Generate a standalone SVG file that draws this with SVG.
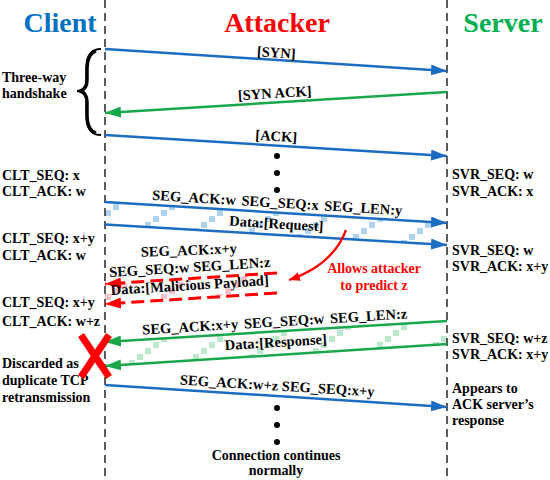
<svg xmlns="http://www.w3.org/2000/svg" width="550" height="480" viewBox="0 0 550 480">
<defs>
<style>
text{font-family:"Liberation Serif","Times New Roman",serif;font-weight:bold}
.title{font-size:28px;text-anchor:middle}
.lab{font-size:14px}
.al{font-size:14.5px;text-anchor:middle}
.life{stroke:#333;stroke-width:1.6;stroke-dasharray:8 5;fill:none}
.blue{stroke:#1C6DC1;stroke-width:2.5;fill:none;marker-end:url(#ahB)}
.green{stroke:#18A84B;stroke-width:2.5;fill:none;marker-end:url(#ahG)}
.red{stroke:#FF0000;stroke-width:3;stroke-dasharray:13 6;fill:none;marker-end:url(#ahR)}
.dot{fill:#000}
</style>
<marker id="ahB" markerUnits="userSpaceOnUse" markerWidth="16" markerHeight="11" refX="16" refY="5.5" orient="auto"><path d="M0,0 L16,5.5 L0,11 z" fill="#1C6DC1"/></marker>
<marker id="ahG" markerUnits="userSpaceOnUse" markerWidth="16" markerHeight="11" refX="16" refY="5.5" orient="auto"><path d="M0,0 L16,5.5 L0,11 z" fill="#18A84B"/></marker>
<marker id="ahR" markerUnits="userSpaceOnUse" markerWidth="16" markerHeight="11" refX="16" refY="5.5" orient="auto"><path d="M0,0 L16,5.5 L0,11 z" fill="#FF0000"/></marker>
<marker id="ahRs" markerUnits="userSpaceOnUse" markerWidth="11" markerHeight="9" refX="11" refY="4.5" orient="auto"><path d="M0,0 L11,4.5 L0,9 z" fill="#FF0000"/></marker>
<pattern id="pB" patternUnits="userSpaceOnUse" width="56" height="42">
<g fill="#AFD3F0"><rect x="1" y="36" width="6" height="6"/><rect x="9" y="30" width="6" height="6"/><rect x="17" y="24" width="6" height="6"/><rect x="25" y="18" width="6" height="6"/><rect x="33" y="12" width="6" height="6"/><rect x="41" y="6" width="6" height="6"/><rect x="49" y="0" width="6" height="6"/></g>
</pattern>
<pattern id="pG" patternUnits="userSpaceOnUse" width="56" height="42">
<g fill="#BCE8CD"><rect x="1" y="36" width="6" height="6"/><rect x="9" y="30" width="6" height="6"/><rect x="17" y="24" width="6" height="6"/><rect x="25" y="18" width="6" height="6"/><rect x="33" y="12" width="6" height="6"/><rect x="41" y="6" width="6" height="6"/><rect x="49" y="0" width="6" height="6"/></g>
</pattern>
<pattern id="pR" patternUnits="userSpaceOnUse" width="56" height="42">
<g fill="#F7C2C8"><rect x="1" y="36" width="6" height="6"/><rect x="9" y="30" width="6" height="6"/><rect x="17" y="24" width="6" height="6"/><rect x="25" y="18" width="6" height="6"/><rect x="33" y="12" width="6" height="6"/><rect x="41" y="6" width="6" height="6"/><rect x="49" y="0" width="6" height="6"/></g>
</pattern>
</defs>
<rect width="550" height="480" fill="#fff"/>

<g id="bands">
<polygon points="105,203 447,224 447,244 105,223.5" fill="url(#pB)"/>
<polygon points="447,322 105,343 105,365 447,343" fill="url(#pG)"/>
<polygon points="277,274 105,285 105,303 277,292" fill="url(#pR)"/>
</g>

<g id="client">
<line class="life" x1="105" y1="0" x2="105" y2="480"/>
<text class="title" x="60" y="32" fill="#0070C0">Client</text>
</g>
<g id="attacker">
<text class="title" x="277" y="32" fill="#FF0000">Attacker</text>
</g>
<g id="server">
<line class="life" x1="447" y1="0" x2="447" y2="480"/>
<text class="title" x="503" y="32" fill="#00B050">Server</text>
</g>

<g id="handshake">
<path d="M101,49 C90,49 86.5,56 86.5,68 L86.5,80 C86.5,87 83,91 77,91 C83,91 86.5,95 86.5,102 L86.5,116 C86.5,128 90,135 101,135" fill="none" stroke="#000" stroke-width="2"/>
<path d="M96,51 C89,53 87,60 87,70 L87,80 C87,87 84,90 80,91 C84,92 87,95 87,102 L87,114 C87,124 89,131 96,133" fill="none" stroke="#000" stroke-width="3.5"/>
<text class="lab" x="2" y="82">Three-way</text>
<text class="lab" x="2" y="98">handshake</text>
</g>

<g id="connectors">
<line class="blue" x1="105" y1="49" x2="447" y2="71"/>
<line class="green" x1="447" y1="92" x2="105" y2="113"/>
<line class="blue" x1="105" y1="135" x2="447" y2="156"/>
<line class="blue" x1="105" y1="202" x2="447" y2="223"/>
<line class="blue" x1="105" y1="224.5" x2="447" y2="245"/>
<line class="red" x1="277" y1="273" x2="105" y2="284"/>
<line class="red" x1="277" y1="293" x2="105" y2="304"/>
<line class="green" x1="447" y1="321" x2="105" y2="342"/>
<line class="green" x1="447" y1="344" x2="105" y2="366"/>
<line class="blue" x1="105" y1="385" x2="447" y2="407"/>
<path d="M346,230 Q333,265 289,280" fill="none" stroke="#FF0000" stroke-width="2.2" marker-end="url(#ahRs)"/>
</g>

<g id="arrow-labels">
<text class="al" x="276" y="57.5" transform="rotate(3.5 276 57.5)">[SYN]</text>
<text class="al" x="275" y="98" transform="rotate(-3.5 275 98)">[SYN ACK]</text>
<text class="al" x="276" y="141" transform="rotate(3.5 276 141)">[ACK]</text>
<text class="al" x="277" y="207.5" word-spacing="2" transform="rotate(3.5 277 207.5)">SEG_ACK:w SEG_SEQ:x SEG_LEN:y</text>
<text class="al" x="276" y="228.5" transform="rotate(3.5 276 228.5)">Data:[Request]</text>
<text class="al" x="189" y="255" transform="rotate(-2 189 255)">SEG_ACK:x+y</text>
<text class="al" x="190" y="272" transform="rotate(-3.6 190 272)">SEG_SEQ:w SEG_LEN:z</text>
<text class="al" x="190" y="290" font-size="14" transform="rotate(-3.6 190 290)">Data:[Malicious Payload]</text>
<text class="al" x="275" y="326.5" word-spacing="2" transform="rotate(-3.5 275 326.5)">SEG_ACK:x+y SEG_SEQ:w SEG_LEN:z</text>
<text class="al" x="276" y="347" transform="rotate(-3.5 276 347)">Data:[Response]</text>
<text class="al" x="277" y="390.5" transform="rotate(3.5 277 390.5)">SEG_ACK:w+z SEG_SEQ:x+y</text>
</g>

<g id="client-state">
<text class="lab" x="2" y="180">CLT_SEQ: x</text>
<text class="lab" x="2" y="196">CLT_ACK: w</text>
<text class="lab" x="2" y="243">CLT_SEQ: x+y</text>
<text class="lab" x="2" y="260">CLT_ACK: w</text>
<text class="lab" x="2" y="307">CLT_SEQ: x+y</text>
<text class="lab" x="2" y="326">CLT_ACK: w+z</text>
<text class="lab" x="2" y="368">Discarded as</text>
<text class="lab" x="2" y="385">duplicate TCP</text>
<text class="lab" x="2" y="402">retransmission</text>
</g>

<g id="server-state">
<text class="lab" x="452" y="179">SVR_SEQ: w</text>
<text class="lab" x="452" y="196">SVR_ACK: x</text>
<text class="lab" x="452" y="255">SVR_SEQ: w</text>
<text class="lab" x="452" y="271">SVR_ACK: x+y</text>
<text class="lab" x="452" y="343">SVR_SEQ: w+z</text>
<text class="lab" x="452" y="359">SVR_ACK: x+y</text>
<text class="lab" x="452" y="393">Appears to</text>
<text class="lab" x="452" y="409">ACK server’s</text>
<text class="lab" x="452" y="425">response</text>
</g>

<g id="attacker-note">
<text class="lab" x="374" y="273" text-anchor="middle" fill="#FF0000">Allows attacker</text>
<text class="lab" x="374" y="290" text-anchor="middle" fill="#FF0000">to predict z</text>
</g>

<g id="discard-mark">
<line x1="81" y1="335" x2="109" y2="377" stroke="#FF0000" stroke-width="7"/>
<line x1="109" y1="335" x2="81" y2="377" stroke="#FF0000" stroke-width="7"/>
</g>

<g id="continuation">
<circle class="dot" cx="277" cy="156" r="3"/>
<circle class="dot" cx="277" cy="173" r="3"/>
<circle class="dot" cx="277" cy="190" r="3"/>
<circle class="dot" cx="277" cy="408" r="3"/>
<circle class="dot" cx="277" cy="425" r="3"/>
<circle class="dot" cx="277" cy="442" r="3"/>
<text class="lab" x="276" y="460" text-anchor="middle">Connection continues</text>
<text class="lab" x="276" y="475" text-anchor="middle">normally</text>
</g>
</svg>
